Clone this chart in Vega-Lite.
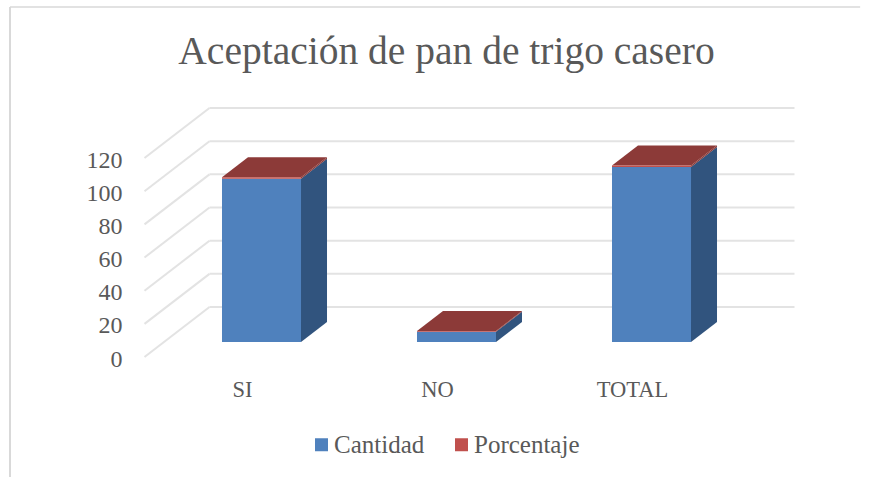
{
"$schema":"https://vega.github.io/schema/vega-lite/v6.json",
"width":745,"height":267,
"autosize":{"type":"none"},
"padding":{"left":125,"top":90,"right":0,"bottom":120},
"background":"white",
"title":{"text":"Aceptación de pan de trigo casero","anchor":"middle","frame":"group","dx":-51,"offset":-66,"font":"Liberation Serif","fontSize":39.5,"fontWeight":"normal","color":"#595959"},
"config":{"view":{"stroke":null},"font":"Liberation Serif",
"axis":{"grid":false,"domain":false,"ticks":false,"title":null,"labelFont":"Liberation Serif","labelFontSize":24,"labelColor":"#595959"}},
"datasets":{
"bars":[
{"categoria":"SI","serie":"Cantidad","valor":98.4},
{"categoria":"SI","serie":"Porcentaje","valor":0.9},
{"categoria":"NO","serie":"Cantidad","valor":6.2},
{"categoria":"NO","serie":"Porcentaje","valor":0.4},
{"categoria":"TOTAL","serie":"Cantidad","valor":105.5},
{"categoria":"TOTAL","serie":"Porcentaje","valor":1}
],
"grid":[{"v":0},{"v":20},{"v":40},{"v":60},{"v":80},{"v":100},{"v":120}]
},
"layer":[
{"data":{"values":[{"f":1}]},"mark":{"type":"rule","color":"#D9D9D9","strokeWidth":2},
 "encoding":{"x":{"datum":-1.1897,"type":"quantitative","title":null,"scale":{"domain":[-0.6,3.2205],"nice":false,"zero":false},"axis":{"values":[0,1,2],"labelExpr":"['SI','NO','TOTAL'][datum.value]","labelPadding":21,"labelAngle":0,"labelFontSize":22.5}},
  "y":{"datum":211.1,"type":"quantitative","title":null,"scale":{"domain":[0,161.04],"nice":false,"zero":false},"axis":{"values":[0,20,40,60,80,100,120],"labelPadding":3,"labelOffset":2}},
  "y2":{"datum":-72.4}}},
{"data":{"values":[{"f":1}]},"mark":{"type":"rule","color":"#D9D9D9","strokeWidth":1.5},
 "encoding":{"x":{"datum":-1.1897,"type":"quantitative","title":null},"x2":{"datum":3.17},"y":{"datum":211.1,"type":"quantitative","title":null}}},
{"data":{"name":"grid"},"transform":[{"calculate":"datum.v+30.157","as":"vb"}],
 "mark":{"type":"rule","color":"#E3E3E3","strokeWidth":2},
 "encoding":{"x":{"datum":-0.5,"type":"quantitative","title":null},"x2":{"datum":-0.1667},"y":{"field":"v","type":"quantitative","title":null},"y2":{"field":"vb"}}},
{"data":{"name":"grid"},"transform":[{"calculate":"datum.v+30.157","as":"vb"}],
 "mark":{"type":"rule","color":"#E3E3E3","strokeWidth":2},
 "encoding":{"x":{"datum":-0.1667,"type":"quantitative","title":null},"x2":{"datum":2.8333},"y":{"field":"vb","type":"quantitative","title":null}}},
{"data":{"name":"bars"},
 "transform":[
  {"stack":"valor","groupby":["categoria"],"sort":[{"field":"serie","order":"ascending"}],"as":["v0","v1"]},
  {"calculate":"indexof(['SI','NO','TOTAL'],datum.categoria)","as":"p"},
  {"calculate":"[0.3,0.7]","as":"d"},{"flatten":["d"]},
  {"calculate":"datum.p+0.2026+datum.d/3","as":"xs"},
  {"calculate":"datum.v0+datum.d*30.157","as":"ys0"},
  {"calculate":"datum.v1+datum.d*30.157","as":"ys1"}],
 "mark":{"type":"area","orient":"vertical"},
 "encoding":{"x":{"field":"xs","type":"quantitative","title":null},
  "y":{"field":"ys0","type":"quantitative","title":null,"stack":null},"y2":{"field":"ys1"},
  "detail":[{"field":"categoria"},{"field":"serie"}],
  "color":{"condition":{"test":"datum.serie==='Cantidad'","value":"#31547E"},"value":"#8C3A38"}}},
{"data":{"name":"bars"},
 "transform":[
  {"stack":"valor","groupby":["categoria"],"sort":[{"field":"serie","order":"ascending"}],"as":["v0","v1"]},
  {"filter":"datum.serie==='Porcentaje'"},
  {"calculate":"indexof(['SI','NO','TOTAL'],datum.categoria)","as":"p"},
  {"calculate":"[0.3,0.7]","as":"d"},{"flatten":["d"]},
  {"calculate":"datum.p-0.2026+datum.d/3","as":"xl"},
  {"calculate":"datum.p+0.2026+datum.d/3","as":"xr"},
  {"calculate":"datum.v1+datum.d*30.157","as":"yt"}],
 "mark":{"type":"area","orient":"horizontal","color":"#8C3A38"},
 "encoding":{"y":{"field":"yt","type":"quantitative","title":null},
  "x":{"field":"xl","type":"quantitative","title":null,"stack":null},"x2":{"field":"xr"},
  "detail":{"field":"categoria"}}},
{"data":{"name":"bars"},
 "transform":[
  {"stack":"valor","groupby":["categoria"],"sort":[{"field":"serie","order":"ascending"}],"as":["v0","v1"]},
  {"calculate":"indexof(['SI','NO','TOTAL'],datum.categoria)","as":"p"},
  {"calculate":"datum.p-0.2026+0.1","as":"xl"},
  {"calculate":"datum.p+0.2026+0.1","as":"xr"},
  {"calculate":"datum.v0+9.047","as":"y0f"},
  {"calculate":"datum.v1+9.047","as":"y1f"}],
 "mark":{"type":"rect"},
 "encoding":{"x":{"field":"xl","type":"quantitative","title":null},"x2":{"field":"xr"},
  "y":{"field":"y0f","type":"quantitative","title":null},"y2":{"field":"y1f"},
  "color":{"field":"serie","type":"nominal","scale":{"domain":["Cantidad","Porcentaje"],"range":["#4F81BD","#C0504D"]},
   "legend":{"title":null,"orient":"none","legendX":184,"legendY":342,"direction":"horizontal","symbolType":"square","symbolSize":169,"symbolStrokeWidth":0,"labelFont":"Liberation Serif","labelFontSize":25,"labelColor":"#595959","columnPadding":24,"labelOffset":0}}}}
]}
